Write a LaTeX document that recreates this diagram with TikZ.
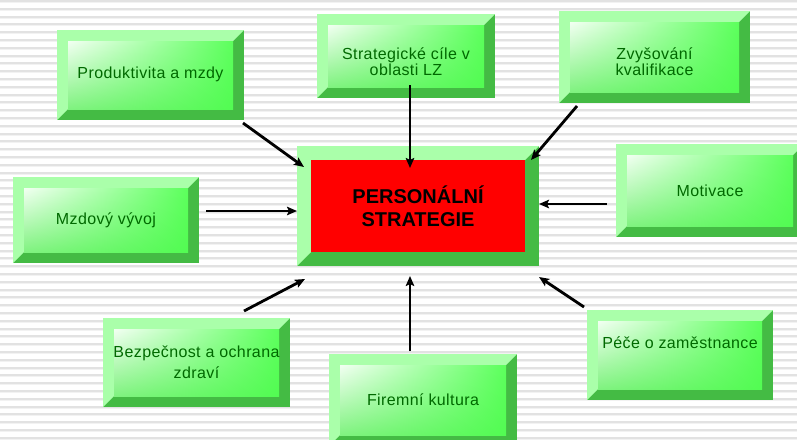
\documentclass[tikz,border=0pt]{standalone}
\usepackage{fontspec}
\setmainfont{Liberation Sans}
\newfontfamily\boxfont[LetterSpace=2.5]{Liberation Sans}
\usetikzlibrary{calc,arrows.meta,shadings}

% palette
\definecolor{bevlight}{RGB}{170,255,170}
\definecolor{bevdark}{RGB}{68,187,68}
\definecolor{facetl}{RGB}{242,255,242}
\definecolor{facetr}{RGB}{92,255,92}
\definecolor{facebl}{RGB}{128,242,128}
\definecolor{facebr}{RGB}{82,252,82}
\definecolor{labelgreen}{RGB}{0,105,0}
\definecolor{stripedark}{RGB}{226,226,226}
\definecolor{stripelight}{RGB}{242,242,242}

% label shifted vertically by #1 while keeping its natural extent
\newcommand\nudge[2]{\raisebox{#1}[\height][\depth]{#2}}
% two centred lines, #2 = extra gap between them
\newcommand\twolines[3]{\begin{tabular}{@{}c@{}}#1\\[#2]#3\end{tabular}}

\tikzset{
  bevel/.store in=\bevelw, bevel=11pt,
  bevel face/.style={shade, upper left=facetl, upper right=facetr,
                     lower left=facebl, lower right=facebr},
  bevelbox/.style={rectangle, outer sep=0pt, inner sep=0pt, fill=bevdark,
    path picture={
      \coordinate (bb-sw) at (path picture bounding box.south west);
      \coordinate (bb-ne) at (path picture bounding box.north east);
      \coordinate (bb-nw) at (bb-sw |- bb-ne);
      \coordinate (in-sw) at ($(bb-sw)+(\bevelw,\bevelw)$);
      \coordinate (in-ne) at ($(bb-ne)+(-\bevelw,-\bevelw)$);
      \coordinate (in-nw) at ($(bb-nw)+(\bevelw,-\bevelw)$);
      % light bevel on the top and left sides
      \fill[bevlight] (bb-sw) -- (bb-nw) -- (bb-ne) -- (in-ne) -- (in-nw) -- (in-sw) -- cycle;
      % front face
      \path[bevel face] (in-sw) rectangle (in-ne);
    }},
  greenbox/.style={bevelbox, text=labelgreen, align=center,
    font=\boxfont\fontsize{16}{16}\selectfont},
  redbox/.style={bevelbox, bevel=14pt, bevel face/.style={fill=red},
    text=black, align=center, font=\fontsize{20}{23}\selectfont\bfseries},
  feed/.style={line width=2.8pt, draw=black,
    -{Stealth[length=10pt,width=8.5pt,inset=2pt]}},
}

\begin{document}
\begin{tikzpicture}[x=1pt,y=-1pt]
  \useasboundingbox (0,0) rectangle (797,439);
  \clip (0,0) rectangle (797,439);

  % striped background
  \fill[white] (0,0) rectangle (797,439);
  \foreach \k in {0,...,57} {
    \fill[stripedark] (0,7.8*\k) rectangle (797,7.8*\k+2);
    \fill[stripelight] (0,7.8*\k+2) rectangle (797,7.8*\k+3);
  }

  % central box
  \node[redbox, minimum width=242pt, minimum height=120pt] (core) at (418,206)
    {PERSONÁLNÍ\\STRATEGIE};

  % surrounding boxes
  \node[greenbox, minimum width=187pt, minimum height=90pt] (prod) at (150.5,75)
    {\nudge{1pt}{Produktivita a mzdy}};
  \node[greenbox, minimum width=178pt, minimum height=84pt] (strat) at (406,56)
    {\nudge{-8pt}{\twolines{Strategické cíle v}{0pt}{oblasti LZ}}};
  \node[greenbox, minimum width=191pt, minimum height=92pt] (zvys) at (654.5,57)
    {\nudge{-7pt}{\twolines{Zvyšování}{0pt}{kvalifikace}}};
  \node[greenbox, minimum width=186pt, minimum height=86pt] (mzda) at (106,220)
    {Mzdový vývoj};
  \node[greenbox, minimum width=188pt, minimum height=93pt] (motiv) at (710,190.5)
    {Motivace};
  \node[greenbox, minimum width=187pt, minimum height=89pt] (bezp) at (196.5,362.5)
    {\nudge{-2pt}{\twolines{Bezpečnost a ochrana}{4pt}{zdraví}}};
  \node[greenbox, minimum width=188pt, minimum height=92pt] (firm) at (423,400)
    {Firemní kultura};
  \node[greenbox, minimum width=186pt, minimum height=90pt] (pece) at (680,355)
    {\nudge{12pt}{Péče o zaměstnance}};

  % arrow end points
  \coordinate (prod-out)  at (243,123);  \coordinate (prod-in)  at (304,167);
  \coordinate (strat-out) at (410,85);   \coordinate (strat-in) at (410,168);
  \coordinate (zvys-out)  at (577,106);  \coordinate (zvys-in)  at (531,160);
  \coordinate (mzda-out)  at (206,211);  \coordinate (mzda-in)  at (297,211);
  \coordinate (motiv-out) at (607,204);  \coordinate (motiv-in) at (539,204);
  \coordinate (bezp-out)  at (244,311);  \coordinate (bezp-in)  at (305,279);
  \coordinate (firm-out)  at (410,351);  \coordinate (firm-in)  at (410,276);
  \coordinate (pece-out)  at (584,307);  \coordinate (pece-in)  at (539,277);

  \foreach \src in {prod,strat,zvys,mzda,motiv,bezp,firm,pece}
    \draw[feed] (\src-out) -- (\src-in);
\end{tikzpicture}
\end{document}
